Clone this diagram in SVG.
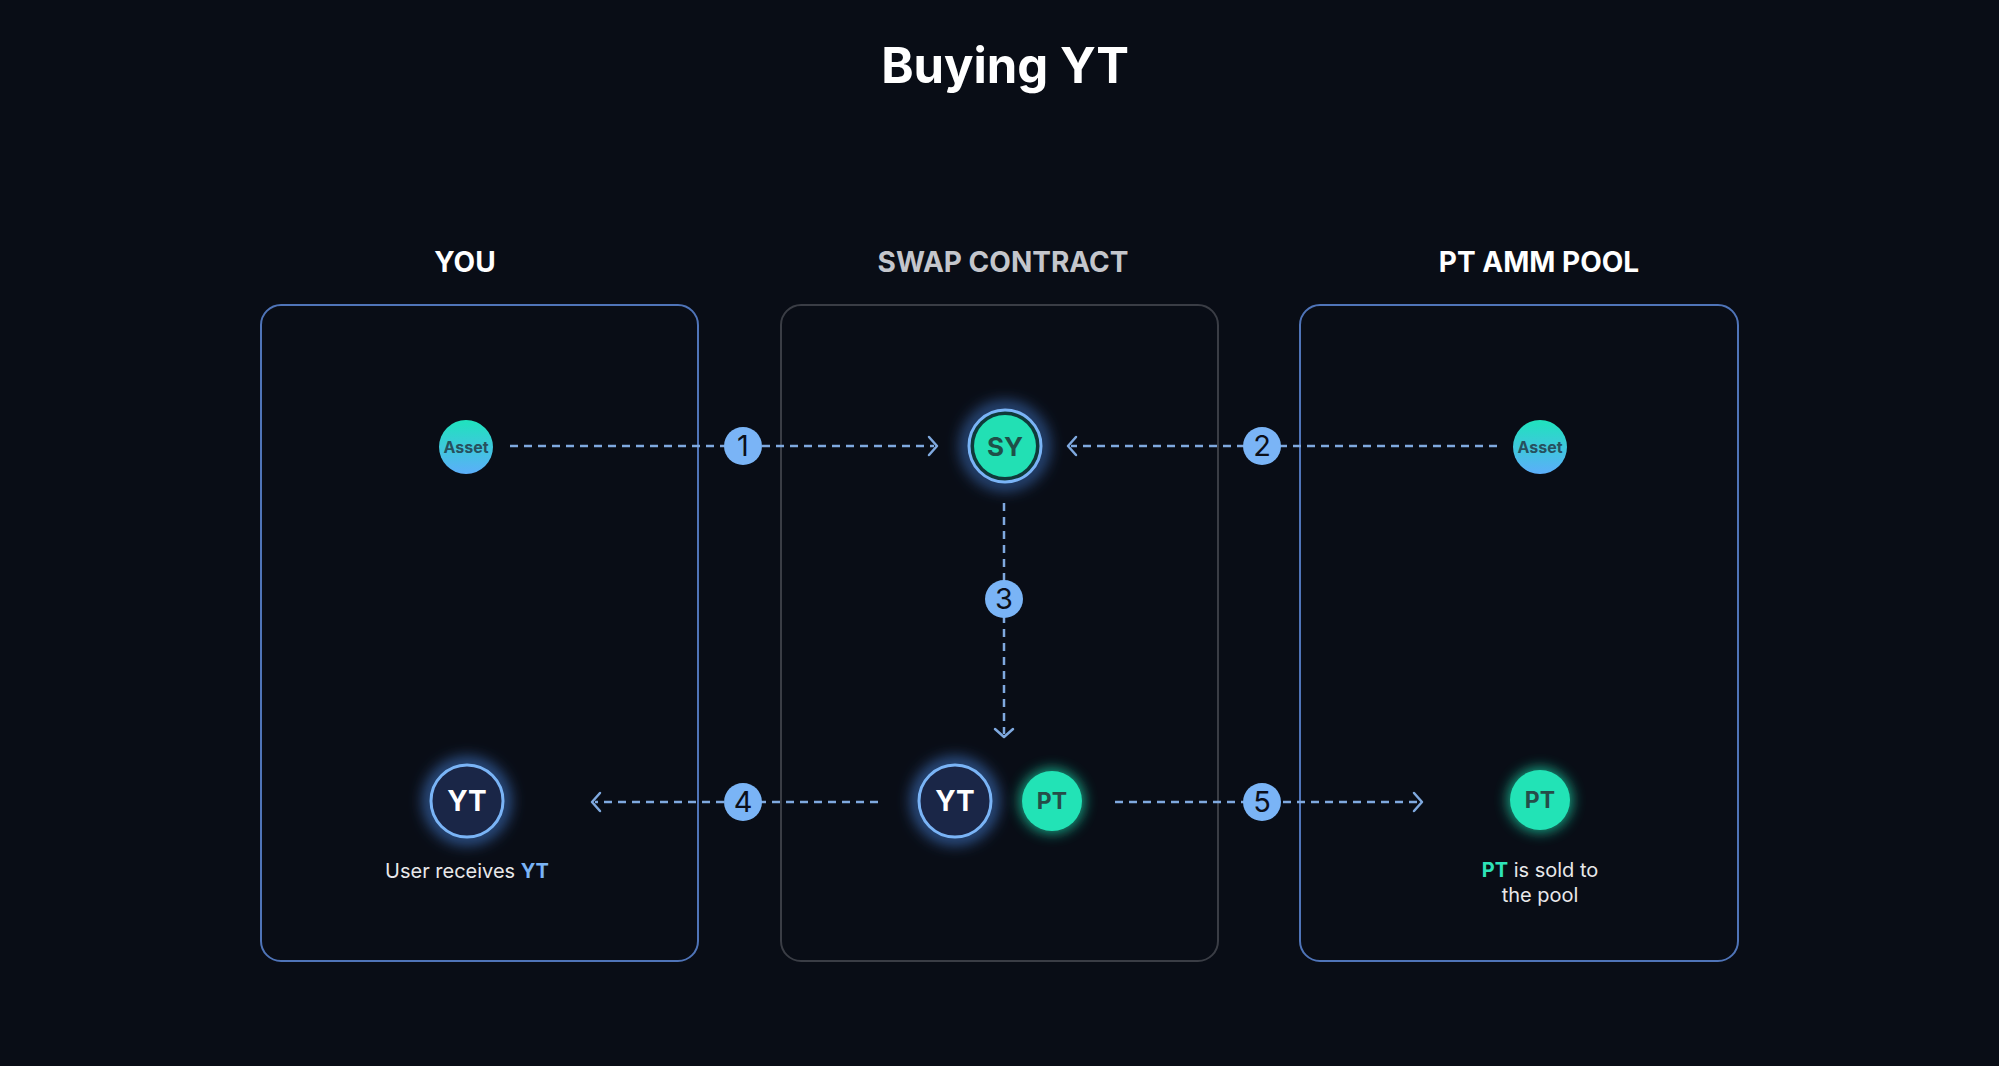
<svg xmlns="http://www.w3.org/2000/svg" width="1999" height="1066" viewBox="0 0 1999 1066">
<defs>
<style>
.title{font-family:Inter,"Liberation Sans",sans-serif;font-weight:700;font-size:49px;fill:#ffffff;text-anchor:middle}
.hdr{font-family:Inter,"Liberation Sans",sans-serif;font-weight:700;font-size:28px;text-anchor:middle}
.box{fill:none;stroke-width:2}
.blue{stroke:#4f74b8}
.gray{stroke:#3a3d45}
.conn{fill:none;stroke:#7fa9df;stroke-width:2.5;stroke-dasharray:8 6}
.head{fill:none;stroke:#7fa9df;stroke-width:2.5;stroke-linecap:round;stroke-linejoin:round}
.badge{fill:#7ab4f6}
.bnum{font-family:Inter,"Liberation Sans",sans-serif;font-weight:400;font-size:29px;fill:#0b0f1a;text-anchor:middle}
.asset{font-family:Inter,"Liberation Sans",sans-serif;font-weight:700;font-size:16px;fill:#27505e;text-anchor:middle}
.tok{font-family:Inter,"Liberation Sans",sans-serif;font-weight:700;text-anchor:middle}
.cap{font-family:Inter,"Liberation Sans",sans-serif;font-weight:400;font-size:20px;fill:#e8e8ea;text-anchor:middle}
</style>
<linearGradient id="assetGrad" x1="0" y1="0" x2="0" y2="1">
<stop offset="0" stop-color="#1fe3bd"/>
<stop offset="1" stop-color="#5caefa"/>
</linearGradient>
<filter id="glowBlue" x="-60%" y="-60%" width="220%" height="220%">
<feGaussianBlur in="SourceGraphic" stdDeviation="8"/>
</filter>
<filter id="glowTeal" x="-60%" y="-60%" width="220%" height="220%">
<feGaussianBlur in="SourceGraphic" stdDeviation="7"/>
</filter>
</defs>
<rect width="1999" height="1066" fill="#090d16"/>
<text class="title" x="1005" y="83">Buying YT</text>

<g id="col-you">
<text class="hdr" x="465" y="272" fill="#ffffff">YOU</text>
<rect class="box blue" x="261" y="305" width="437" height="656" rx="20"/>
</g>
<g id="col-swap">
<text class="hdr" x="1003" y="272" fill="#c4c6cc">SWAP CONTRACT</text>
<rect class="box gray" x="781" y="305" width="437" height="656" rx="20"/>
</g>
<g id="col-pool">
<text class="hdr" x="1539" y="272" fill="#ffffff">PT AMM POOL</text>
<rect class="box blue" x="1300" y="305" width="438" height="656" rx="20"/>
</g>

<g id="connectors">
<line class="conn" x1="510" y1="446" x2="934" y2="446"/>
<polyline class="head" points="929,437 937,446 929,455"/>
<line class="conn" x1="1497" y1="446" x2="1071" y2="446"/>
<polyline class="head" points="1076,437 1068,446 1076,455"/>
<line class="conn" x1="1004" y1="503" x2="1004" y2="734"/>
<polyline class="head" points="995,729 1004,737 1013,729"/>
<line class="conn" x1="878" y1="802" x2="595" y2="802"/>
<polyline class="head" points="600,793 592,802 600,811"/>
<line class="conn" x1="1115" y1="802" x2="1419" y2="802"/>
<polyline class="head" points="1414,793 1422,802 1414,811"/>
<g id="badge-1"><circle class="badge" cx="743" cy="446" r="19"/><text class="bnum" x="743" y="456">1</text></g>
<g id="badge-2"><circle class="badge" cx="1262" cy="446" r="19"/><text class="bnum" x="1262" y="456">2</text></g>
<g id="badge-3"><circle class="badge" cx="1004" cy="599" r="19"/><text class="bnum" x="1004" y="609">3</text></g>
<g id="badge-4"><circle class="badge" cx="743" cy="802" r="19"/><text class="bnum" x="743" y="812">4</text></g>
<g id="badge-5"><circle class="badge" cx="1262" cy="802" r="19"/><text class="bnum" x="1262" y="812">5</text></g>
</g>

<g id="asset-you">
<circle cx="466" cy="447" r="27" fill="url(#assetGrad)"/>
<text class="asset" x="466" y="453">Asset</text>
</g>
<g id="asset-pool">
<circle cx="1540" cy="447" r="27" fill="url(#assetGrad)"/>
<text class="asset" x="1540" y="453">Asset</text>
</g>

<g id="sy">
<circle cx="1005" cy="446" r="38" fill="none" stroke="#4d8ff0" stroke-width="7" filter="url(#glowBlue)"/>
<circle cx="1005" cy="446" r="36" fill="#0f3a3a" stroke="#7ab4f6" stroke-width="3"/>
<circle cx="1005" cy="446" r="31" fill="#22e0b4"/>
<text class="tok" x="1005" y="456" font-size="26" fill="#1f4f48">SY</text>
</g>

<g id="yt-you">
<circle cx="467" cy="801" r="37" fill="none" stroke="#4d8ff0" stroke-width="8" filter="url(#glowBlue)"/>
<circle cx="467" cy="801" r="36" fill="#1a2647" stroke="#7ab4f6" stroke-width="3"/>
<text class="tok" x="467" y="811" font-size="28" fill="#ffffff">YT</text>
<text class="cap" x="467" y="878">User receives <tspan font-weight="700" fill="#7ab4f6">YT</tspan></text>
</g>

<g id="yt-swap">
<circle cx="955" cy="801" r="37" fill="none" stroke="#4d8ff0" stroke-width="8" filter="url(#glowBlue)"/>
<circle cx="955" cy="801" r="36" fill="#1a2647" stroke="#7ab4f6" stroke-width="3"/>
<text class="tok" x="955" y="811" font-size="28" fill="#ffffff">YT</text>
</g>

<g id="pt-swap">
<circle cx="1052" cy="801" r="32" fill="#1ee3b3" filter="url(#glowTeal)" opacity="0.75"/>
<circle cx="1052" cy="801" r="30" fill="#22e3b6"/>
<text class="tok" x="1052" y="809" font-size="23" fill="#254d48">PT</text>
</g>

<g id="pt-pool">
<circle cx="1540" cy="800" r="32" fill="#1ee3b3" filter="url(#glowTeal)" opacity="0.75"/>
<circle cx="1540" cy="800" r="30" fill="#22e3b6"/>
<text class="tok" x="1540" y="808" font-size="23" fill="#254d48">PT</text>
<text class="cap" x="1540" y="877"><tspan font-weight="700" fill="#2ee3b8">PT</tspan> is sold to</text>
<text class="cap" x="1540" y="902">the pool</text>
</g>
</svg>
